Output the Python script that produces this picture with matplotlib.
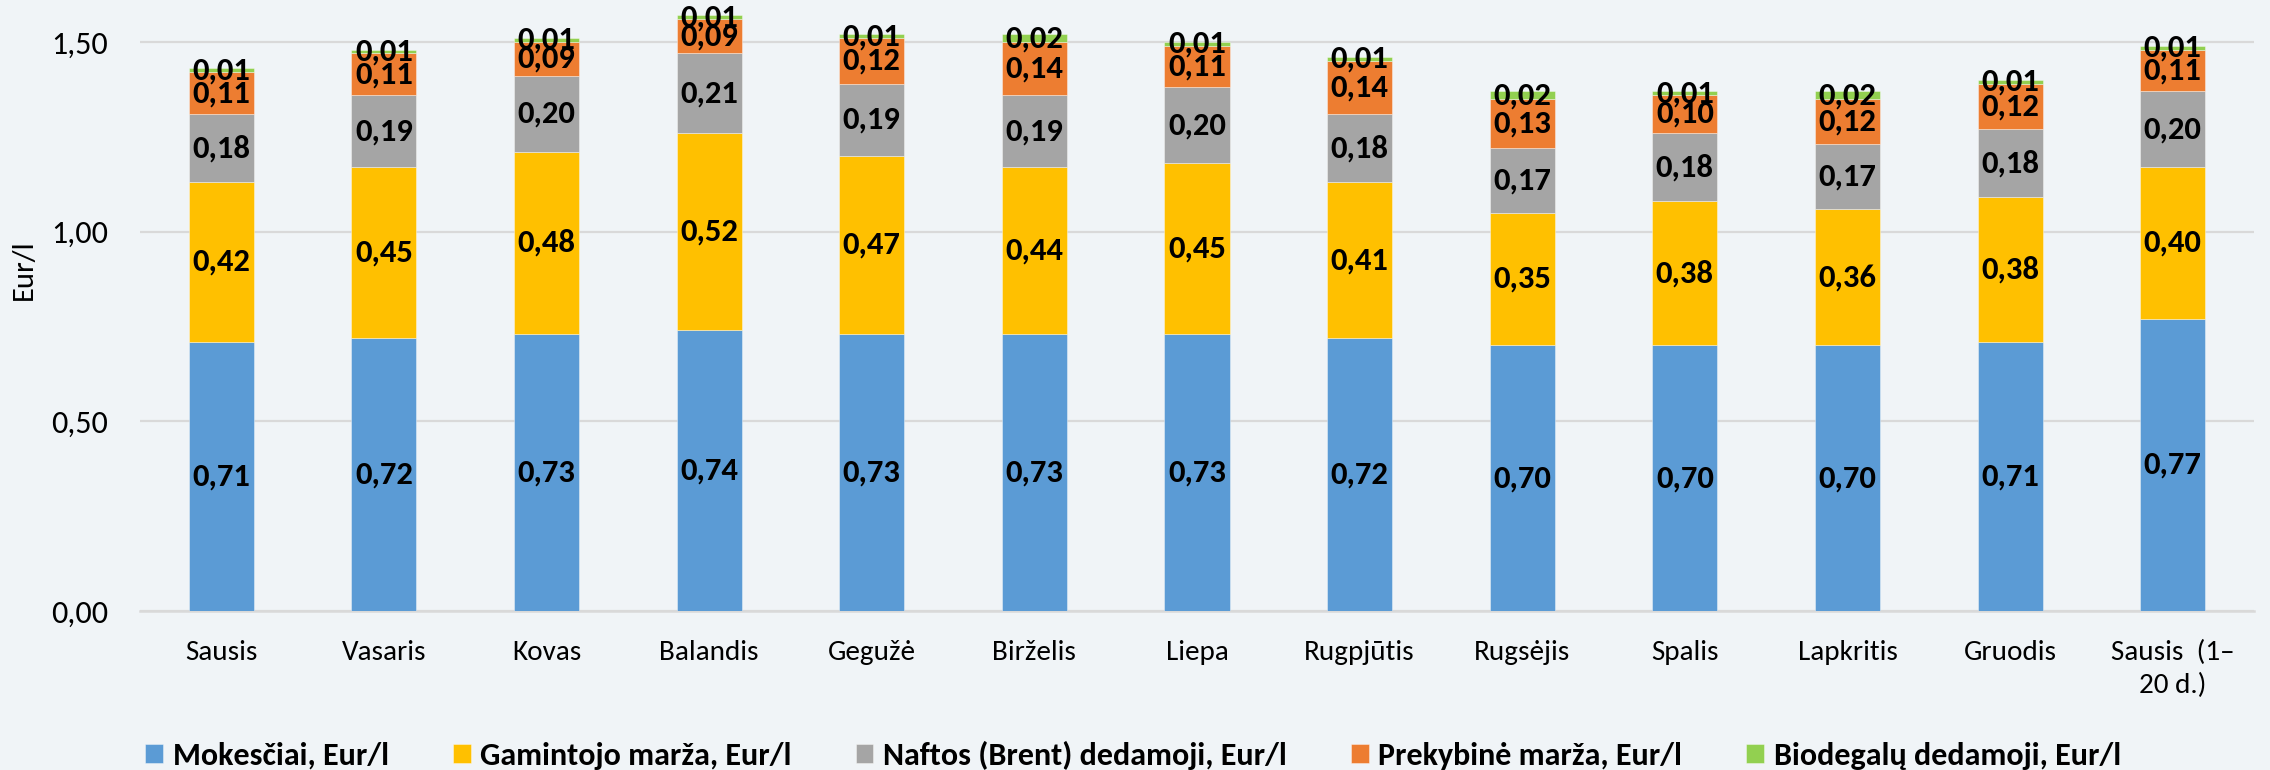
import matplotlib
matplotlib.use("Agg")
import matplotlib.pyplot as plt
from matplotlib import font_manager as fm
import numpy as np

categories = ["Sausis", "Vasaris", "Kovas", "Balandis", "Gegužė", "Birželis", "Liepa",
              "Rugpjūtis", "Rugsėjis", "Spalis", "Lapkritis", "Gruodis", "Sausis  (1–\n20 d.)"]
series_names = ["Mokesčiai, Eur/l", "Gamintojo marža, Eur/l", "Naftos (Brent) dedamoji, Eur/l",
                "Prekybinė marža, Eur/l", "Biodegalų dedamoji, Eur/l"]
mokesciai = [0.71, 0.72, 0.73, 0.74, 0.73, 0.73, 0.73, 0.72, 0.70, 0.70, 0.70, 0.71, 0.77]
gamintojo = [0.42, 0.45, 0.48, 0.52, 0.47, 0.44, 0.45, 0.41, 0.35, 0.38, 0.36, 0.38, 0.40]
naftos = [0.18, 0.19, 0.20, 0.21, 0.19, 0.19, 0.20, 0.18, 0.17, 0.18, 0.17, 0.18, 0.20]
prekybine = [0.11, 0.11, 0.09, 0.09, 0.12, 0.14, 0.11, 0.14, 0.13, 0.10, 0.12, 0.12, 0.11]
biodegalu = [0.01, 0.01, 0.01, 0.01, 0.01, 0.02, 0.01, 0.01, 0.02, 0.01, 0.02, 0.01, 0.01]
yticks = [0.0, 0.5, 1.0, 1.5]
ytick_labels = ["0,00", "0,50", "1,00", "1,50"]
colors = ["#5B9BD5", "#FFC000", "#A5A5A5", "#ED7D31", "#92D050"]

available = {f.name for f in fm.fontManager.ttflist}
font = next((f for f in ["Carlito", "Calibri", "Fira Sans Condensed", "Open Sans", "DejaVu Sans"] if f in available), "DejaVu Sans")
plt.rcParams["font.family"] = [font, "DejaVu Sans"]

bg = "#F0F4F7"
fig = plt.figure(figsize=(22.7, 7.7), dpi=100, facecolor=bg)
ax = fig.add_axes([140/2270, 1-611/770, (2254-140)/2270, (611-4)/770])
ax.set_facecolor(bg)

data = [mokesciai, gamintojo, naftos, prekybine, biodegalu]
x = np.arange(len(categories))
bottom = np.zeros(len(categories))
handles = []
for vals, name, col in zip(data, series_names, colors):
    v = np.array(vals)
    b = ax.bar(x, v, 0.4, bottom=bottom, color=col, label=name, zorder=3,
               edgecolor=(1, 1, 1, 0.45), linewidth=0.6)
    handles.append(b)
    for xi, bi, vi in zip(x, bottom, v):
        ax.text(xi, bi + vi/2, f"{vi:.2f}".replace(".", ","), ha="center", va="center",
                fontsize=23.5, fontweight="bold", color="black", zorder=4)
    bottom = bottom + v

ax.set_xlim(-0.5, len(categories) - 0.5)
ax.set_ylim(0, 1.6)
ax.set_yticks(yticks)
ax.set_yticklabels(ytick_labels, fontsize=23)
ax.set_xticks(x)
ax.set_xticklabels(categories, fontsize=21, linespacing=1.4)
ax.tick_params(axis="both", length=0)
ax.tick_params(axis="x", pad=21)
ax.tick_params(axis="y", pad=23)
ax.grid(axis="y", color="#D9D9D9", linewidth=1.6, zorder=0)
for s in ["top", "right", "left"]:
    ax.spines[s].set_visible(False)
ax.spines["bottom"].set_color("#D9D9D9")
ax.spines["bottom"].set_linewidth(1.8)
ax.spines["bottom"].set_zorder(2)

ax.set_ylabel("Eur/l", fontsize=22)
ax.yaxis.set_label_coords(-0.0487, 0.562)

leg = fig.legend(handles=handles, labels=series_names, loc="center", bbox_to_anchor=(1133/2270, 1-755/770),
                 ncol=5, frameon=False, prop={"size": 23, "weight": "bold"},
                 handlelength=0.56, handleheight=0.56, handletextpad=0.3, columnspacing=2.0)

fig.savefig("out.png", dpi=100, facecolor=bg)
